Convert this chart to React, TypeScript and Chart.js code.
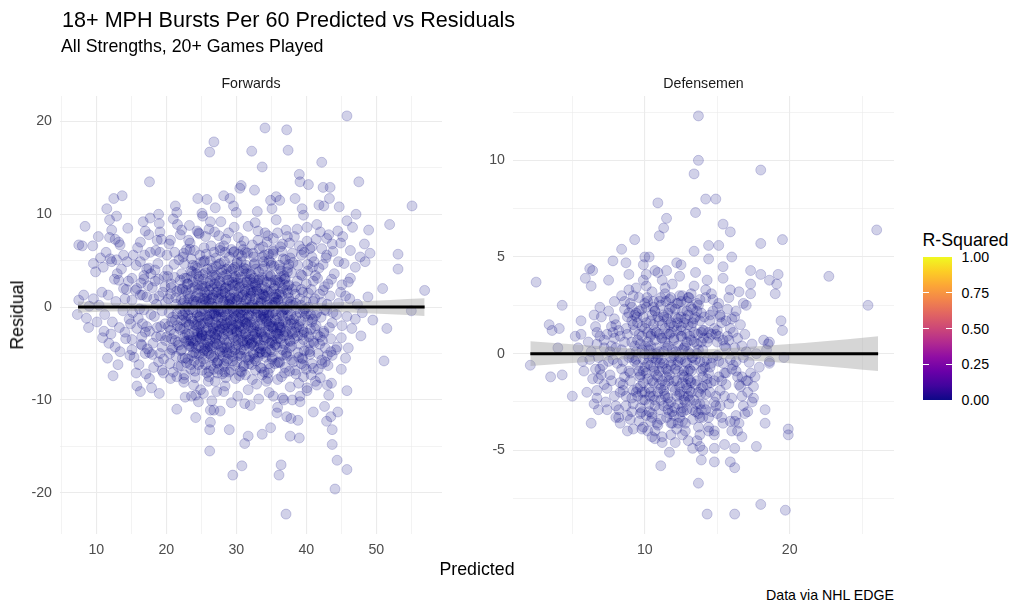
import React, { useEffect, useRef } from 'react';
import { Chart, registerables } from 'chart.js';
Chart.register(...registerables);

const FONT = "'Liberation Sans', Arial, Helvetica, sans-serif";

// ---------- Forwards: [predicted, residual] ----------
const fwdOuter: [number, number][] = [
  [45.8,20.6],[34.1,19.3],[37.2,19.1],[26.8,17.8],[26.2,16.7],[32.2,16.8],[37.4,16.9],[33.7,15.1],[42.2,15.6],[17.6,13.5],
  [47.5,13.5],[39.0,14.3],[39.1,13.5],[40.3,13.2],[30.7,13.1],[30.5,12.8],[32.6,12.6],[42.4,12.9],[43.4,12.9],[13.7,12.0],
  [12.5,11.7],[11.5,10.6],[24.5,11.7],[25.8,11.6],[27.0,10.7],[28.2,12.0],[29.1,11.7],[29.6,10.9],[35.7,11.9],[34.9,11.5],
  [36.2,11.5],[35.1,10.6],[38.4,11.7],[39.4,10.6],[39.6,9.9],[55.1,10.9],[44.7,10.8],[43.3,11.7],[41.8,11.0],[42.5,10.9],
  [45.8,9.3],[47.1,10.0],[48.9,8.3],[51.9,8.9],[8.4,8.7],[7.5,6.7],[8.0,6.6],[9.5,6.6],[10.3,7.6],[11.9,9.4],
  [12.2,8.3],[14.5,8.5],[11.9,7.5],[12.7,7.3],[13.2,7.0],[13.4,6.7],[16.7,9.2],[17.7,9.6],[18.9,10.0],[19.0,9.0],
  [19.1,8.1],[17.5,7.8],[16.3,7.0],[18.7,7.2],[21.3,10.9],[21.5,10.2],[21.0,9.5],[22.2,8.3],[22.0,7.8],[20.6,7.2],
  [25.1,10.1],[25.2,9.8],[26.3,9.2],[24.4,8.2],[24.6,8.0],[53.1,5.7],[53.1,4.1],[56.9,1.8],[50.9,2.0],[49.1,5.8],
  [48.4,4.9],[47.0,4.3],[47.7,5.4],[46.3,6.1],[44.9,6.9],[43.7,6.8],[44.6,4.9],[46.3,3.1],[46.0,2.7],[45.1,2.4],
  [44.9,1.6],[9.6,4.7],[9.9,3.8],[11.0,4.3],[12.0,5.2],[12.2,4.9],[12.9,5.1],[14.4,4.9],[15.3,5.6],[13.2,2.9],
  [13.9,2.0],[10.8,1.6],[9.6,0.9],[7.5,0.75],[8.2,1.3],[16.3,4.9],[16.8,3.4],[17.5,4.2],[18.4,4.0],[19.1,5.9],
  [20.1,5.6],[17.7,5.9],[15.8,2.0],[16.3,1.3],[15.1,3.1],[14.1,0.9],[15.1,0.75],
  [7.3,-0.8],[8.9,-2.2],[10.1,-1.6],[11.1,-2.6],[11.8,-3.9],[12.7,-4.3],[13.4,-4.8],[12.4,-7.4],[15.7,-7.1],[17.1,-7.2],
  [17.6,-7.7],[15.8,-8.5],[16.3,-9.1],[15.1,-4.6],[16.5,-4.1],[17.0,-5.0],[15.8,-2.3],[14.9,-1.8],[17.2,-2.1],[14.1,-2.7],
  [15.1,-3.5],[16.5,-3.2],[19.1,-5.0],[18.9,-5.9],[19.4,-6.8],[19.6,-7.1],[20.6,-7.7],[21.5,-7.5],[22.5,-7.7],[23.9,-8.4],
  [24.9,-8.9],[25.3,-9.3],[27.2,-9.1],[28.2,-9.1],[21.5,-11.0],[22.7,-9.7],[23.6,-9.6],[24.6,-10.2],[24.2,-11.9],[26.3,-11.1],
  [26.8,-11.1],[27.7,-11.2],[26.3,-12.4],[26.2,-13.2],[26.2,-15.5],[29.0,-13.2],[29.5,-18.1],[30.8,-17.1],[31.2,-14.7],[31.7,-13.9],
  [33.7,-13.7],[34.9,-13.0],[36.4,-17.0],[36.1,-18.1],[37.1,-22.3],[37.7,-13.9],[39.0,-14.1],[37.8,-12.0],[38.8,-12.2],[41.0,-11.3],
  [42.6,-10.7],[42.9,-12.3],[43.5,-11.8],[43.7,-13.2],[43.7,-14.8],[44.4,-16.5],[44.1,-19.6],[45.8,-17.5],[44.5,-11.3],[45.8,-9.0],
  [45.0,-6.7],[45.6,-5.5],[51.1,-5.8],[43.2,-9.5],[41.3,-8.0],[42.0,-7.6],[55.0,-0.4],[51.5,-2.3],[47.0,-1.3],[46.5,-2.3],
  [45.1,-2.0],[47.8,-3.1],[35.8,-11.4],[37.2,-11.8],[38.0,-10.0],[39.1,-9.6],[40.1,-8.7],[36.8,-10.0],[35.3,-9.6],[40.8,-6.1],
  [42.2,-5.7],[43.0,-5.2],[44.4,-4.3],[43.7,-5.2],[42.7,-5.9],[41.0,-3.7],[42.0,-3.2],[42.5,-2.8],[40.3,-4.6],[39.4,-5.5],
  [38.4,-6.8],[39.6,-7.5],[40.1,-9.0],[39.1,-10.2],[41.5,-8.4],[43.0,-8.4],
  [44.3,-0.8],[44.6,0.4],[45.0,-3.3],[45.4,4.7],[45.8,-1.0],[46.2,0.9],[44.5,8.2],[45.2,7.6],[46.0,-4.4],[46.6,8.6],
  [44.2,-4.6],[45.6,1.2],[47.3,0.3],[48.0,-0.6],[48.8,1.1],[49.5,-1.4],[48.3,6.8],
  [10.4,0.2],[11.2,-0.8],[11.7,1.3],[12.3,-1.6],[12.8,0.6],[13.3,-2.2],[13.8,-0.4],[14.3,1.9],[14.7,-1.3],[10.9,-3.3],
  [12.1,-2.9],[13.0,3.6],[13.6,4.1],[14.2,-3.4],[14.8,-5.2],[11.4,5.9],[12.6,3.0],[13.9,5.6],[14.6,2.8],[11.6,-5.5],
  [13.1,-6.2],[10.6,5.3],[9.0,0.1],[8.6,-1.2],[12.9,9.8],
];

const fwdMid: [number, number][] = [
  [20.3,-2.1],[20.6,1.4],[20.9,-4.4],[21.2,3.2],[21.5,-0.7],[21.8,5.1],[22.1,-6.3],[22.4,0.4],[22.7,-3.0],[23.0,2.5],
  [20.2,4.0],[20.8,-1.6],[21.4,-5.3],[21.9,1.9],[22.5,-8.1],[22.9,6.2],[21.1,-2.9],[22.2,3.6],[22.8,-1.2],[20.5,-6.1],
  [21.7,-3.8],[22.6,4.7],[23.1,-5.6],[20.4,6.8],[21.6,8.9],
  [23.3,-1.9],[23.6,3.3],[23.9,-4.9],[24.2,1.1],[24.5,-2.8],[24.8,5.6],[25.1,-6.8],[25.4,0.2],[25.7,-3.5],[26.0,2.6],
  [23.4,6.9],[23.8,-0.3],[24.1,-7.6],[24.4,4.2],[24.7,-1.1],[25.0,-4.4],[25.3,3.0],[25.6,7.6],[25.9,-2.2],[23.5,-3.6],
  [24.0,-5.8],[24.6,1.9],[25.2,-5.1],[25.5,5.0],[25.8,-0.9],[23.2,0.9],[24.3,-2.0],[24.9,-0.5],[25.6,-6.2],[23.7,2.0],
  [24.8,-3.3],[25.9,4.1],[24.2,-9.5],[23.3,8.8],
  [26.2,-0.8],[26.5,3.9],[26.8,-5.3],[27.1,1.6],[27.4,-2.6],[27.7,6.1],[28.0,-7.2],[28.3,0.7],[28.6,-3.9],[28.9,2.9],
  [26.3,-4.2],[26.6,0.1],[26.9,8.1],[27.2,-6.0],[27.5,4.6],[27.8,-1.5],[28.1,3.3],[28.4,-8.5],[28.7,-0.2],[29.0,5.4],
  [26.4,6.6],[26.7,-2.3],[27.0,-8.0],[27.3,2.2],[27.6,-4.7],[27.9,1.0],[28.2,-2.9],[28.5,7.3],[28.8,-5.6],[26.1,-6.9],
  [26.5,-10.1],[27.4,-1.1],[28.0,4.0],[28.6,-1.7],[27.1,-3.4],[26.3,2.3],[28.3,-6.4],[27.8,9.2],[26.9,-0.6],[28.9,0.3],
  [29.2,-1.4],[29.5,2.4],[29.8,-4.6],[30.1,0.8],[30.4,-2.1],[30.7,4.9],[31.0,-6.4],[31.3,1.7],[31.6,-3.2],[31.9,3.6],
  [29.3,6.2],[29.6,-0.4],[29.9,-7.7],[30.2,3.0],[30.5,-5.0],[30.8,-0.9],[31.1,7.1],[31.4,-1.8],[31.7,-8.9],[32.0,1.2],
  [29.4,-3.0],[29.7,8.6],[30.0,-2.5],[30.3,5.7],[30.6,-6.9],[30.9,0.1],[31.2,-4.1],[31.5,2.7],[31.8,-0.2],[29.1,1.9],
  [30.2,-9.6],[31.0,3.9],[31.9,-5.4],[29.8,4.3],[30.5,1.5],[31.4,-2.8],[29.5,-5.8],[30.9,-3.6],[31.6,5.8],[30.0,10.2],
  [31.2,-10.4],[29.3,-10.3],
  [32.2,-1.0],[32.5,3.1],[32.8,-5.8],[33.1,0.5],[33.4,-2.4],[33.7,5.4],[34.0,-7.0],[34.3,1.8],[34.6,-3.7],[34.9,2.6],
  [32.3,6.7],[32.6,-0.1],[32.9,-8.3],[33.2,3.8],[33.5,-4.5],[33.8,-0.7],[34.1,8.0],[34.4,-1.6],[34.7,-6.1],[35.0,4.5],
  [32.4,-3.1],[32.7,9.1],[33.0,-2.0],[33.3,6.3],[33.6,-6.6],[33.9,1.3],[34.2,-4.8],[34.5,3.4],[34.8,0.0],[32.1,1.8],
  [33.2,-9.9],[34.0,4.4],[34.7,-9.2],[32.8,2.2],[33.6,-1.3],[34.4,7.0],[32.5,-5.1],[33.9,-3.2],[34.9,-2.1],[33.0,10.3],
  [32.0,-10.6],
  [35.2,-0.6],[35.5,2.9],[35.8,-4.3],[36.1,1.4],[36.4,-2.2],[36.7,5.2],[37.0,-6.5],[37.3,0.6],[37.6,-3.6],[37.9,3.7],
  [35.3,7.4],[35.6,-1.4],[35.9,-7.8],[36.2,4.1],[36.5,-5.2],[36.8,-0.3],[37.1,8.3],[37.4,-1.9],[37.7,-8.6],[38.0,1.9],
  [35.4,-3.1],[35.7,9.4],[36.0,-2.9],[36.3,6.5],[36.6,-9.8],[36.9,2.4],[37.2,-4.9],[37.5,4.6],[37.8,-0.8],[35.1,-5.6],
  [36.4,0.2],[37.0,3.1],[35.9,-10.8],[37.6,6.9],
  [38.2,-1.3],[38.5,2.2],[38.8,-4.9],[39.1,0.9],[39.4,-3.0],[39.7,5.9],[40.0,-6.7],[40.3,1.5],[40.6,-2.4],[40.9,4.3],
  [38.3,7.6],[38.6,-0.2],[38.9,-8.2],[39.2,3.5],[39.5,-5.6],[39.8,-1.0],[40.1,8.6],[40.4,-3.9],[40.7,-7.3],[41.0,2.8],
  [38.4,-2.7],[39.0,6.6],[39.6,-0.4],[40.2,3.9],[40.8,-1.6],[38.1,4.8],[39.3,-6.1],[40.5,6.3],
  [41.3,-0.9],[41.6,3.1],[41.9,-4.0],[42.2,0.5],[42.5,-2.6],[42.8,5.3],[43.1,-6.3],[43.4,1.2],[43.7,-1.7],[44.0,3.6],
  [41.4,7.3],[41.7,-6.7],[42.0,8.1],[42.3,-3.6],[42.6,2.2],[42.9,-0.4],[43.2,7.8],[43.5,-3.4],[43.8,6.0],[41.2,-2.3],
  [42.4,4.6],[43.6,-8.2],
  [15.2,-0.6],[15.6,1.8],[16.0,-1.2],[16.4,2.6],[16.8,-0.3],[17.2,1.1],[17.6,-2.6],[18.0,2.1],[18.3,-1.0],[18.6,0.3],
  [18.9,3.0],[19.2,-3.1],[19.5,1.6],[19.8,-1.8],[15.4,-5.4],[16.1,-6.2],[17.3,-4.5],[18.1,-3.9],[18.7,-2.2],[19.4,-4.3],
  [19.9,0.5],[17.8,3.6],[18.5,6.1],[16.9,5.6],[15.9,6.4],[19.7,3.3],[16.6,-1.8],[18.2,-6.5],[19.3,7.3],[17.0,8.2],
  [15.7,4.5],[19.0,-9.3],[17.9,-8.7],
  [24.3,0.6],[24.9,-1.8],[25.4,-4.0],[25.9,1.3],[26.4,-2.6],[26.9,3.2],[27.4,-0.3],[27.9,-4.3],[28.4,2.0],[28.9,-2.2],
  [29.4,0.5],[29.9,-3.6],[30.4,2.1],[30.9,-1.5],[31.4,-5.4],[31.9,0.9],[32.4,-2.6],[32.9,1.7],[33.4,-4.1],[33.9,2.9],
  [34.4,-0.6],[34.9,-4.6],[35.4,1.1],[35.9,-2.2],[36.4,3.3],[36.9,-4.0],[37.4,1.5],[37.9,-2.6],[24.6,3.0],[25.1,-3.0],
  [25.6,2.2],[26.1,-5.0],[26.6,1.0],[27.1,-1.9],[27.6,2.8],[28.1,-5.3],[28.6,4.1],[29.1,-4.4],[29.6,3.2],[30.1,-5.9],
  [30.6,-0.6],[31.1,4.2],[31.6,-1.1],[32.1,-4.0],[32.6,4.7],[33.1,-3.6],[33.6,0.9],[34.1,-2.7],[34.6,5.7],[35.1,-3.8],
  [35.6,0.5],[36.1,-5.9],[36.6,2.0],[37.1,-1.6],[22.3,-0.8],[22.8,1.8],[23.3,-4.2],[23.8,4.5],[21.3,-1.4],[20.7,2.5],
  [38.5,0.4],[39.0,-2.1],[39.5,1.6],[40.0,-0.7],[40.5,-4.8],[41.0,0.6],[31.3,-7.3],[32.3,-7.8],[29.0,-7.0],[27.3,-7.1],
  [34.3,-8.0],[30.7,6.6],[28.4,5.9],[33.1,7.2],[35.3,6.0],[26.0,-8.0],
  [22.5,5.8],[23.2,7.2],[24.0,6.1],[24.7,7.9],[25.4,6.4],[26.1,8.4],[26.8,5.9],[27.5,7.7],[28.2,6.6],[28.9,8.0],
  [29.6,5.9],[30.3,7.5],[31.0,6.2],[31.7,8.7],[32.4,5.8],[33.1,8.2],[33.8,6.5],[34.5,7.7],[35.2,5.7],[35.9,8.0],
  [36.6,6.8],[37.3,7.6],[38.0,5.8],[38.7,8.4],[39.4,6.2],[40.1,7.1],[40.8,5.4],[41.5,8.9],[42.2,6.3],[42.9,7.4],
  [23.6,5.2],[27.1,5.3],[30.8,5.5],[34.0,5.6],[37.7,5.3],[41.1,4.9],
];

const fwdCore: [number, number][] = [
  [20.1,-3.2],[20.3,0.9],[20.5,-5.0],[20.7,2.1],[20.9,-1.1],[21.1,4.6],[21.3,-3.6],[21.5,1.7],[21.7,-6.4],[21.9,-0.2],
  [20.2,3.3],[20.6,-2.5],[21.0,-7.0],[21.4,0.3],[21.8,-4.1],[20.4,-0.6],[21.2,5.9],[21.6,-2.0],[20.8,-4.6],[22.0,2.9],
  [22.1,-4.7],[22.3,2.0],[22.5,-2.3],[22.7,-0.5],[22.9,-6.0],[23.1,1.4],[23.3,-3.0],[23.5,3.9],[23.7,-5.2],[23.9,0.7],
  [22.2,-1.4],[22.4,5.4],[22.6,-7.3],[22.8,-3.7],[23.0,0.0],[23.2,-1.9],[23.4,6.2],[23.6,-4.3],[23.8,2.7],[24.0,-2.6],
  [22.9,3.1],[23.5,-6.7],[22.3,-5.5],[23.1,-0.9],[23.9,-3.9],
  [24.1,0.3],[24.3,-4.4],[24.5,2.4],[24.7,-2.1],[24.9,4.8],[25.1,-0.4],[25.3,-5.6],[25.5,1.6],[25.7,-3.1],[25.9,-1.3],
  [24.2,-3.6],[24.4,-0.9],[24.6,-6.2],[24.8,1.0],[25.0,-2.7],[25.2,3.5],[25.4,-4.7],[25.6,0.6],[25.8,-7.1],[26.0,-0.1],
  [24.3,3.6],[24.7,-5.1],[25.1,2.3],[25.5,-1.7],[25.9,-4.3],[24.5,-1.5],[25.3,0.9],[24.1,-6.9],[25.7,5.7],[24.9,-3.4],
  [26.1,1.8],[26.3,-3.0],[26.5,0.4],[26.7,-5.5],[26.9,2.5],[27.1,-1.0],[27.3,-4.0],[27.5,1.1],[27.7,-2.4],[27.9,3.7],
  [26.2,-1.6],[26.4,-6.3],[26.6,3.4],[26.8,-0.7],[27.0,-3.3],[27.2,0.0],[27.4,-5.8],[27.6,2.6],[27.8,-0.5],[28.0,-4.8],
  [26.3,5.0],[26.7,-2.2],[27.1,4.4],[27.5,-6.7],[27.9,-1.8],[26.5,-4.4],[27.3,1.6],[26.1,-7.5],[27.7,6.4],[26.9,-2.9],
  [27.6,-3.6],[26.4,0.9],
  [28.1,0.6],[28.3,-3.5],[28.5,2.1],[28.7,-1.4],[28.9,-5.0],[29.1,1.3],[29.3,-2.4],[29.5,4.1],[29.7,-0.7],[29.9,-4.1],
  [28.2,-6.1],[28.4,-0.9],[28.6,3.5],[28.8,-2.8],[29.0,0.2],[29.2,-6.8],[29.4,2.7],[29.6,-3.3],[29.8,1.0],[30.0,-1.9],
  [28.3,4.9],[28.7,-4.3],[29.1,-0.3],[29.5,-5.3],[29.9,3.3],[28.5,-7.6],[29.3,0.9],[28.1,-2.2],[29.7,6.0],[28.9,2.3],
  [29.6,-1.2],[28.4,1.5],
  [30.1,-3.0],[30.3,1.1],[30.5,-1.2],[30.7,-4.6],[30.9,2.6],[31.1,-0.4],[31.3,-2.9],[31.5,0.9],[31.7,-5.7],[31.9,1.9],
  [30.2,-0.5],[30.4,3.8],[30.6,-2.6],[30.8,-7.0],[31.0,1.3],[31.2,-1.6],[31.4,4.5],[31.6,-3.9],[31.8,-0.9],[32.0,3.0],
  [30.3,-5.2],[30.7,0.4],[31.1,-6.3],[31.5,-1.7],[31.9,-3.5],[30.5,2.2],[31.3,5.9],[30.1,4.7],[31.7,2.4],[30.9,-3.8],
  [31.4,-0.1],[30.2,-1.8],
  [32.1,-2.2],[32.3,0.4],[32.5,-4.2],[32.7,2.4],[32.9,-0.8],[33.1,-5.4],[33.3,1.4],[33.5,-2.7],[33.7,3.2],[33.9,-1.1],
  [32.2,-6.2],[32.4,1.6],[32.6,-1.9],[32.8,4.1],[33.0,-3.4],[33.2,0.1],[33.4,-6.5],[33.6,2.0],[33.8,-4.2],[34.0,-0.3],
  [32.3,-3.8],[32.7,-0.2],[33.1,2.9],[33.5,-1.0],[33.9,4.9],[32.5,5.4],[33.3,-4.9],[32.1,3.5],[33.7,-7.3],[32.9,-2.7],
  [33.6,0.6],[32.4,-5.0],
  [34.1,1.1],[34.3,-3.3],[34.5,0.2],[34.7,-1.8],[34.9,3.4],[35.1,-4.8],[35.3,-0.5],[35.5,2.3],[35.7,-2.8],[35.9,0.8],
  [34.2,-5.4],[34.4,2.7],[34.6,-0.9],[34.8,-6.6],[35.0,1.7],[35.2,-2.1],[35.4,4.4],[35.6,-4.0],[35.8,-1.2],[36.0,2.6],
  [34.3,-1.5],[34.7,5.0],[35.1,0.5],[35.5,-6.1],[35.9,-3.4],[34.5,-7.7],[35.3,6.2],[34.9,-2.9],[35.7,1.4],
  [36.1,-1.7],[36.3,1.6],[36.5,-3.9],[36.7,0.0],[36.9,3.0],[37.1,-2.6],[37.3,-5.3],[37.5,1.0],[37.7,-1.4],[37.9,-4.2],
  [36.2,-6.0],[36.4,3.9],[36.6,-0.9],[36.8,-3.1],[37.0,5.1],[37.2,-0.3],[37.4,2.3],[37.6,-6.9],[37.8,0.6],[38.0,-2.9],
  [36.3,-2.5],[36.9,-7.1],[37.3,3.8],[36.5,6.0],[37.7,-3.7],
  [38.1,0.2],[38.3,-3.4],[38.5,-1.0],[38.7,2.8],[38.9,-5.4],[39.1,-0.6],[39.3,1.9],[39.5,-2.4],[39.7,-6.3],[39.9,0.6],
  [38.2,-5.9],[38.4,1.4],[38.6,-2.2],[38.8,4.5],[39.0,-4.0],[39.2,-1.5],[39.4,3.4],[39.6,-3.5],[39.8,-0.2],[40.0,2.5],
  [38.5,-7.2],[39.3,5.6],[38.9,-1.9],[39.7,-4.7],
  [40.1,-2.8],[40.3,0.0],[40.5,-5.1],[40.7,1.9],[40.9,-1.3],[41.1,-3.9],[41.3,3.4],[41.5,-0.6],[41.7,-5.0],[41.9,1.4],
  [40.2,4.6],[40.6,-0.8],[41.0,-6.6],[41.4,-2.0],[41.8,4.2],[40.4,-3.2],[41.2,0.9],[40.8,6.5],[41.6,-3.0],
  [42.1,-1.1],[42.4,1.8],[42.7,-4.4],[43.0,0.3],[43.3,-2.2],[43.6,3.0],[42.2,-6.1],[42.6,-0.3],[43.1,2.5],[43.5,-4.8],
  [42.9,5.6],[43.8,-0.6],
  [16.2,-0.2],[16.6,1.3],[17.0,-2.7],[17.4,2.3],[17.8,-0.8],[18.2,0.9],[18.6,-3.2],[19.0,1.2],[19.4,-0.4],[19.8,2.2],
  [16.4,-4.0],[17.2,4.1],[18.0,-5.1],[18.8,4.7],[19.6,-5.6],[17.6,-4.9],[19.2,-2.1],[18.4,2.8],[16.8,3.0],[19.9,-3.6],
];

const fwdDense: [number, number][] = [
  [22.0,-2.4],[22.1,0.8],[22.2,-4.6],[22.3,1.9],[22.4,-0.9],[22.5,-3.3],[22.6,3.1],[22.7,-5.5],[22.8,-1.6],[22.9,0.2],
  [23.0,-2.9],[23.1,2.5],[23.2,-4.0],[23.3,-0.3],[23.4,1.2],[23.5,-6.2],[23.6,-1.2],[23.7,3.8],[23.8,-3.7],[23.9,0.5],
  [24.0,-1.9],[24.1,2.2],[24.2,-5.0],[24.3,-0.6],[24.4,-2.6],[24.5,1.5],[24.6,-4.2],[24.7,3.3],[24.8,-1.0],[24.9,-5.9],
  [25.0,0.4],[25.1,-3.1],[25.2,2.0],[25.3,-1.8],[25.4,-0.2],[25.5,-4.5],[25.6,3.7],[25.7,-2.5],[25.8,1.0],[25.9,-3.9],
  [26.0,-1.4],[26.1,0.6],[26.2,-3.6],[26.3,2.8],[26.4,-5.2],[26.5,-0.7],[26.6,-2.8],[26.7,1.3],[26.8,-4.1],[26.9,0.0],
  [27.0,-1.7],[27.1,3.4],[27.2,-3.0],[27.3,-6.0],[27.4,0.9],[27.5,-2.1],[27.6,-0.4],[27.7,-4.9],[27.8,2.3],[27.9,-1.1],
  [28.0,-3.2],[28.1,1.7],[28.2,-0.5],[28.3,-4.4],[28.4,-1.9],[28.5,0.3],[28.6,-5.8],[28.7,2.9],[28.8,-2.6],[28.9,-0.8],
  [29.0,-3.8],[29.1,1.0],[29.2,-1.5],[29.3,3.9],[29.4,-4.8],[29.5,-0.1],[29.6,-2.3],[29.7,1.6],[29.8,-6.3],[29.9,-1.0],
  [30.0,0.5],[30.1,-2.7],[30.2,2.6],[30.3,-4.1],[30.4,-0.7],[30.5,-1.9],[30.6,3.2],[30.7,-5.3],[30.8,1.1],[30.9,-3.0],
  [31.0,-0.3],[31.1,-4.6],[31.2,1.9],[31.3,-1.3],[31.4,0.7],[31.5,-3.6],[31.6,2.9],[31.7,-2.0],[31.8,-6.1],[31.9,0.0],
  [32.0,-1.6],[32.1,1.5],[32.2,-3.9],[32.3,-0.4],[32.4,2.6],[32.5,-2.2],[32.6,-5.6],[32.7,0.9],[32.8,-1.1],[32.9,-3.3],
  [33.0,1.9],[33.1,-0.6],[33.2,-4.4],[33.3,3.0],[33.4,-1.8],[33.5,0.4],[33.6,-2.9],[33.7,-5.0],[33.8,1.4],[33.9,-0.9],
  [34.0,-3.5],[34.1,2.1],[34.2,-1.3],[34.3,-4.9],[34.4,0.6],[34.5,-2.5],[34.6,1.6],[34.7,-0.5],[34.8,-3.9],[34.9,3.3],
  [35.0,-1.6],[35.1,-5.4],[35.2,0.2],[35.3,-2.3],[35.4,2.0],[35.5,-4.1],[35.6,-0.8],[35.7,1.0],[35.8,-2.9],[35.9,-6.0],
  [36.0,0.7],[36.1,-1.9],[36.2,2.7],[36.3,-3.4],[36.4,-0.6],[36.5,1.3],[36.6,-4.6],[36.7,-1.5],[36.8,3.4],[36.9,-2.7],
  [37.0,-0.2],[37.1,-5.1],[37.2,1.8],[37.3,-3.0],[37.4,-0.9],[37.5,2.4],[37.6,-4.4],[37.7,0.3],[37.8,-1.8],[37.9,-5.7],
  [25.05,-2.9],[25.45,0.9],[25.85,-4.7],[26.25,-1.0],[26.65,2.0],[27.05,-3.9],[27.45,-0.5],[27.85,1.4],[28.25,-2.4],[28.65,-4.9],
  [29.05,0.7],[29.45,-1.9],[29.85,2.3],[30.25,-3.5],[30.65,-0.1],[31.05,-2.3],[31.45,3.6],[31.85,-4.3],[32.25,0.2],[32.65,-2.9],
  [33.05,2.6],[33.45,-4.8],[33.85,-0.4],[34.25,1.2],[34.65,-2.0],[35.05,-3.6],[35.45,0.5],[35.85,2.9],[36.25,-2.2],[36.65,-0.4],
  [24.35,-3.2],[23.75,-1.5],[23.15,-3.6],[22.55,0.7],[21.95,-2.2],[21.35,1.0],[20.75,-3.4],[38.25,-1.8],[38.75,-3.1],[39.25,0.2],
  [24.15,4.4],[25.35,4.9],[26.55,4.2],[27.75,4.7],[28.95,4.3],[30.15,4.9],[31.35,4.1],[32.55,4.6],[33.75,4.1],[34.95,4.8],
  [36.15,4.5],[37.35,4.2],[28.35,-7.0],[30.45,-7.4],[32.75,-6.8],[34.55,-7.1],[26.75,-6.7],[36.45,-7.5],[39.65,-2.7],[40.25,-1.4],
];

// ---------- Defensemen: [predicted, residual] ----------
const defOuter: [number, number][] = [
  [13.7,12.3],[13.7,10.0],[13.4,9.3],[18.0,9.5],[10.9,7.8],[14.2,8.0],[14.9,8.0],[13.5,7.3],[11.5,7.0],[11.3,6.5],
  [11.0,6.1],[15.4,6.7],[15.9,6.3],[9.3,5.9],[8.4,5.4],[8.7,4.7],[7.8,4.8],[6.2,4.4],[6.4,4.3],[5.9,3.9],
  [6.3,3.5],[7.5,3.8],[2.5,3.7],[4.3,2.5],[3.4,1.5],[3.6,1.2],[4.1,1.3],[4.0,0.3],[26.0,6.4],[25.4,2.5],
  [22.7,4.0],[18.0,5.7],[19.5,5.9],[17.3,4.3],[18.0,4.1],[19.2,4.1],[18.6,3.8],[19.1,3.6],[19.0,3.1],[19.4,1.7],
  [19.5,1.2],[18.6,0.6],[17.3,3.6],[17.3,3.1],[16.5,3.2],[15.9,3.3],[16.0,5.0],[15.4,4.5],[15.4,3.9],[14.4,5.6],
  [15.1,5.6],[14.4,4.9],[10.0,5.0],[10.3,5.0],[9.9,4.6],[10.7,4.3],[11.2,3.8],[11.5,4.3],[12.2,4.7],[12.5,4.6],
  [13.4,5.3],[5.2,0.9],[5.6,1.0],[5.4,0.3],[5.7,-0.4],[6.7,0.5],[6.8,-0.2],[7.2,0.3],[7.7,1.4],[7.2,0.7],
  [7.9,0.8],[6.6,1.4],[6.9,2.4],[7.5,2.2],[7.9,2.7],[8.4,3.0],[8.9,3.3],[8.6,2.7],[9.1,2.4],[9.4,2.1],
  [10.1,2.4],[10.7,2.2],[11.0,2.7],[11.8,2.9],[12.5,2.7],[13.0,2.9],[13.6,2.6],[9.1,1.7],[9.8,1.4],[10.5,2.0],
  [11.3,1.9],[11.8,1.1],[12.5,1.9],[13.2,1.4],[13.9,2.1],
  [17.0,2.5],[16.3,2.2],[15.6,1.7],[15.9,1.3],[15.1,0.9],[15.4,0.7],[14.0,1.2],[14.5,1.7],[16.8,-0.2],[17.2,-0.45],
  [16.3,-0.9],[17.0,-1.4],[16.6,-1.7],[17.5,-2.3],[18.2,0.7],[18.4,0.2],[17.7,0.0],[18.6,-0.4],[17.9,-0.7],
  [2.1,-0.6],[3.5,-1.2],[4.3,-1.1],[5.0,-2.2],[6.3,-3.6],[6.8,-2.9],[8.0,-3.3],[8.3,-3.6],[8.8,-4.0],[9.2,-3.9],
  [10.7,-4.4],[11.1,-5.8],[11.7,-5.1],[13.7,-6.7],[14.3,-8.3],[16.2,-8.3],[18.0,-7.8],[19.7,-8.1],[16.2,-5.9],[15.9,-5.6],
  [14.8,-5.6],[13.9,-5.5],[17.7,-4.8],[19.9,-3.9],[19.9,-4.2],[18.3,-2.9],[18.3,-3.6],[16.2,-4.9],[15.5,-4.7],[18.5,0.5],
  [19.6,-0.2],[18.6,-0.5],[17.6,-1.2],
  [6.7,-1.9],[6.7,-2.3],[7.4,-1.8],[7.9,-2.2],[8.0,-2.7],[8.2,-3.3],[9.0,-3.4],[9.9,-3.8],[9.8,-3.0],[10.5,-3.3],
  [10.7,-4.0],[11.2,-4.3],[11.8,-3.6],[12.3,-3.6],[12.6,-4.2],[13.0,-4.5],[13.3,-4.9],[13.8,-4.8],[14.0,-5.0],[14.4,-4.0],
  [14.8,-4.2],[14.8,-4.9],[16.0,-4.0],[16.2,-3.5],[16.4,-4.0],[16.7,-4.3],[16.9,-3.1],[17.1,-2.0],[17.4,-2.5],[17.1,-1.4],
  [17.5,-1.7],[16.7,-1.2],
  [5.8,-0.9],[6.1,0.6],[6.4,-1.3],[6.7,1.1],[6.0,-2.0],[6.5,2.0],[6.9,-0.8],[6.2,-0.3],[5.6,1.7],
];

const defMid: [number, number][] = [
  [7.1,-0.6],[7.4,1.0],[7.7,-1.4],[8.0,0.3],[8.3,-2.0],[7.3,-2.5],[7.9,1.8],[8.4,-0.8],[7.6,0.1],[8.2,1.2],
  [7.0,-1.1],[8.5,-1.6],[7.8,-0.3],
  [8.6,0.6],[8.9,-0.9],[9.2,1.5],[9.5,-2.2],[9.8,0.2],[8.7,-2.7],[9.0,2.6],[9.3,-0.4],[9.6,1.0],[9.9,-1.5],
  [8.8,1.9],[9.1,-3.0],[9.4,3.4],[9.7,-2.8],[10.0,-0.7],[8.6,-1.2],[9.2,-1.9],[9.8,2.3],[9.0,0.0],[9.5,0.7],
  [9.9,3.8],[8.9,4.1],[9.6,-3.5],[10.0,1.3],
  [10.1,-1.0],[10.4,0.9],[10.7,-2.4],[11.0,1.7],[11.3,-0.5],[10.2,2.7],[10.5,-3.1],[10.8,0.3],[11.1,-1.8],[11.4,3.1],
  [10.3,-0.2],[10.6,1.5],[10.9,-3.7],[11.2,0.8],[11.5,-1.2],[10.1,3.5],[10.4,-2.0],[10.7,2.2],[11.0,-0.9],[11.3,-2.7],
  [10.6,-0.7],[11.4,1.3],[10.9,4.2],[10.2,-4.0],[11.1,2.9],[10.5,0.0],
  [11.6,0.4],[11.9,-1.7],[12.2,1.2],[12.5,-0.3],[12.8,-2.5],[11.7,2.3],[12.0,-3.2],[12.3,-0.9],[12.6,3.0],[12.9,0.6],
  [11.8,-0.6],[12.1,1.9],[12.4,-2.1],[12.7,-1.2],[13.0,2.0],[11.6,-2.9],[11.9,3.6],[12.2,-1.4],[12.5,0.9],[12.8,-3.6],
  [11.7,1.0],[12.3,2.6],[12.9,-0.5],[12.0,-0.1],[12.6,-2.8],[11.8,-4.2],[12.4,4.0],[12.7,1.6],[12.1,-4.6],[12.9,-1.8],
  [13.1,-0.8],[13.4,1.1],[13.7,-2.0],[14.0,0.2],[14.3,-1.3],[13.2,2.4],[13.5,-3.0],[13.8,1.7],[14.1,-2.6],[14.4,0.8],
  [13.3,-0.2],[13.6,0.5],[13.9,-0.9],[14.2,2.9],[13.1,-2.4],[13.4,3.5],[13.7,-3.8],[14.0,-1.7],[14.3,3.8],[13.2,-1.5],
  [13.8,-4.2],[14.4,-3.3],[13.5,4.2],[14.1,1.2],[13.0,0.1],
  [14.6,-0.5],[14.9,1.0],[15.2,-1.9],[15.5,0.4],[15.8,-2.6],[14.7,2.2],[15.0,-3.1],[15.3,1.6],[15.6,-1.0],[15.9,-0.3],
  [14.8,-1.4],[15.1,2.6],[15.4,-3.6],[15.7,0.9],[14.6,3.1],[15.0,-0.1],[15.5,-2.2],[16.0,1.8],[14.9,-2.7],[15.8,2.9],
  [16.1,-0.6],[16.4,0.8],[16.7,-2.2],[17.0,0.1],[17.3,-1.0],[16.2,1.9],[16.5,-1.6],[16.8,2.6],[17.1,-3.0],[16.3,-3.2],
  [16.9,1.0],[17.4,0.5],
  [9.3,0.4],[9.7,-1.1],[10.2,0.6],[10.6,-1.5],[11.0,0.1],[11.4,-2.2],[11.8,1.6],[12.2,-0.6],[12.6,0.2],[13.0,-1.3],
  [13.4,0.6],[13.8,-0.4],[9.5,-0.6],[9.9,1.9],[10.3,-2.6],[10.8,1.1],[11.2,-1.4],[11.6,2.1],[12.0,0.7],[12.4,-1.7],
  [12.8,1.8],[13.2,-2.0],[13.6,2.2],[14.0,-0.8],[10.0,-2.4],[10.9,-0.2],[11.5,-0.8],[12.7,-0.9],[13.3,1.6],[11.1,2.5],
  [12.3,-2.6],[10.4,1.7],[11.7,-3.1],[12.9,2.7],[9.4,-2.0],[13.9,-2.9],
];

const defCore: [number, number][] = [
  [8.1,-0.5],[8.3,0.9],[8.5,-1.9],[8.7,1.3],[8.9,-0.2],[9.1,-2.3],[9.3,2.0],[8.2,-2.9],[8.6,2.3],[9.0,-1.4],
  [9.4,0.1],[8.4,0.2],[8.8,-3.2],[9.2,3.0],[8.0,1.5],
  [9.5,1.6],[9.6,-0.9],[9.7,0.5],[9.8,-2.0],[9.9,-0.3],[10.0,2.6],[10.1,-3.2],[10.2,-1.3],[10.3,0.2],[10.4,-0.6],
  [10.5,3.2],[10.6,-2.2],[10.7,0.7],[10.8,-1.1],[10.9,1.9],[11.0,-2.9],[9.6,2.9],[9.8,-3.9],[10.0,0.0],[10.2,1.1],
  [10.4,-3.5],[10.6,2.7],[10.8,-0.3],[11.0,-1.6],[9.7,-1.7],[10.1,4.1],[10.5,-4.3],[10.9,-2.0],[10.3,-1.8],[10.7,1.2],
  [11.1,-0.3],[11.2,1.5],[11.3,-1.9],[11.4,0.6],[11.5,-3.3],[11.6,-0.9],[11.7,2.8],[11.8,-2.5],[11.9,0.2],[12.0,-1.4],
  [12.1,2.3],[12.2,-3.9],[12.3,0.4],[12.4,-0.2],[12.5,1.2],[11.2,-4.6],[11.4,3.4],[11.6,-2.3],[11.8,-0.4],[12.0,1.4],
  [12.2,-2.2],[12.4,3.0],[11.3,0.1],[11.7,-1.1],[12.1,-0.8],[12.5,-3.0],[11.5,1.0],[11.9,-3.6],[12.3,1.8],[11.1,-2.4],
  [12.6,-1.5],[12.7,0.3],[12.8,-0.4],[12.9,-2.9],[13.0,1.5],[13.1,-1.9],[13.2,0.7],[13.3,-3.4],[13.4,-0.6],[13.5,1.9],
  [13.6,-1.4],[13.7,0.2],[13.8,-2.6],[13.9,1.1],[14.0,-3.3],[12.6,2.2],[12.8,-4.0],[13.0,-0.9],[13.2,3.1],[13.4,-2.4],
  [13.6,-4.5],[13.8,2.8],[12.7,-2.2],[13.1,0.0],[13.5,-0.3],[13.9,-1.8],[12.9,1.0],[13.3,2.3],[13.7,-3.1],[12.6,-3.5],
  [14.1,-0.4],[14.2,-2.1],[14.3,0.6],[14.4,-1.0],[14.5,2.0],[14.6,-3.0],[14.7,-0.2],[14.8,1.3],[14.9,-2.2],[15.0,0.6],
  [15.1,-1.2],[15.2,1.9],[15.3,-3.3],[15.4,-0.5],[14.2,3.3],[14.4,-3.8],[14.6,1.0],[14.8,-4.0],[15.0,2.4],[15.2,-2.7],
  [14.3,-1.6],[14.7,2.8],[15.1,-0.4],[14.5,-0.7],
  [15.6,-1.6],[15.8,0.7],[16.0,-2.3],[16.2,0.3],[16.4,-1.2],[16.6,1.5],[16.8,-2.7],[15.7,2.3],[15.9,-3.5],[16.1,1.1],
  [16.3,-0.4],[16.5,-3.6],[16.7,0.4],[15.5,-1.0],[16.0,-0.8],
  [6.3,0.1],[6.6,-0.8],[6.9,0.9],[7.2,-1.6],[7.5,-0.4],[7.8,1.1],[6.5,-2.6],[7.0,1.9],[7.4,-2.9],[7.7,0.4],
  [6.8,-1.3],[7.6,-1.1],
];

const defDense: [number, number][] = [
  [9.0,-1.0],[9.1,0.6],[9.2,-2.6],[9.3,1.2],[9.4,-0.3],[9.5,-1.8],[9.6,2.2],[9.7,-3.1],[9.8,0.9],[9.9,-0.9],
  [10.0,-2.0],[10.1,1.6],[10.2,-0.5],[10.3,-3.0],[10.4,0.4],[10.5,-1.4],[10.6,2.4],[10.7,-2.7],[10.8,0.0],[10.9,-1.2],
  [11.0,1.0],[11.1,-3.4],[11.2,-0.7],[11.3,2.0],[11.4,-1.6],[11.5,0.3],[11.6,-2.6],[11.7,1.5],[11.8,-0.2],[11.9,-3.0],
  [12.0,0.8],[12.1,-1.9],[12.2,2.6],[12.3,-0.4],[12.4,-3.3],[12.5,1.4],[12.6,-1.1],[12.7,-2.4],[12.8,0.4],[12.9,2.2],
  [13.0,-2.2],[13.1,0.9],[13.2,-0.9],[13.3,-2.9],[13.4,1.8],[13.5,-1.6],[13.6,0.0],[13.7,2.5],[13.8,-3.3],[13.9,0.6],
  [14.0,-1.2],[14.1,1.9],[14.2,-2.9],[14.3,-0.3],[14.4,1.1],[14.5,-2.0],[9.15,-0.2],[9.65,-1.2],[10.15,2.9],[10.65,-0.9],
  [11.15,0.8],[11.65,-1.4],[12.15,0.1],[12.65,-3.0],[13.15,-1.4],[13.65,1.0],[14.15,-0.7],[10.35,-2.2],[11.45,2.7],[12.45,-2.0],
  [9.45,1.9],[10.45,1.0],[11.35,-2.1],[12.25,1.6],[13.25,-0.2],[13.85,-2.1],[12.85,-1.6],[11.85,2.4],[10.85,-3.6],[9.85,-2.4],
  [10.05,0.4],[10.55,-0.2],[11.05,-0.5],[11.55,1.8],[12.05,-2.8],[12.55,0.9],[13.05,2.9],[13.55,-2.6],[14.05,0.8],[14.55,-1.5],
  [8.5,-0.4],[8.8,1.0],[8.3,-1.5],[15.0,1.2],[15.3,-1.4],[15.6,0.3],[14.8,-2.5],[15.2,2.0],[8.7,-2.2],[8.9,2.1],
];

const fwdPoints = [...fwdOuter, ...fwdMid, ...fwdCore, ...fwdDense];
const defPoints = [...defOuter, ...defMid, ...defCore, ...defDense];

// ---------- Fitted line (lm) and its confidence band ----------
const fwdFitX = [7.4, 56.9];
const fwdFitY = [0.0, 0.0];
const fwdBandX = [7.4, 12, 17, 22, 27, 32, 37, 42, 47, 52, 56.9];
const fwdBandHalf = [0.6, 0.48, 0.38, 0.31, 0.27, 0.28, 0.34, 0.45, 0.6, 0.77, 0.95];

const defFitX = [2.1, 26.1];
const defFitY = [0.0, 0.0];
const defBandX = [2.1, 4, 6, 8, 10, 12, 14, 16, 18, 20, 22, 24, 26.1];
const defBandHalf = [0.64, 0.54, 0.43, 0.32, 0.23, 0.19, 0.21, 0.29, 0.39, 0.5, 0.62, 0.75, 0.9];

// ---------- Axis ticks ----------
const fwdXMajor = [10, 20, 30, 40, 50];
const fwdXMinor = [5, 15, 25, 35, 45, 55];
const fwdYMajor = [-20, -10, 0, 10, 20];
const fwdYMinor = [-15, -5, 5, 15];
const defXMajor = [10, 20];
const defXMinor = [5, 15, 25];
const defYMajor = [-5, 0, 5, 10];
const defYMinor = [-7.5, -2.5, 2.5, 7.5, 12.5];

// ---------- Legend (colour bar) ----------
const legendValues = [0, 0.25, 0.5, 0.75, 1];
const legendLabels = ['0.00', '0.25', '0.50', '0.75', '1.00'];
const plasmaStops = ['#0d0887', '#41049d', '#6a00a8', '#8f0da4', '#b12a90', '#cc4778', '#e16462', '#f2844b', '#fca636', '#fcce25', '#f0f921'];

const POINT_FILL = 'rgba(13,8,135,0.19)';

type PanelProps = {
  points: [number, number][];
  fitX: number[]; fitY: number[];
  bandX: number[]; bandHalf: number[];
  xMajor: number[]; xMinor: number[]; yMajor: number[]; yMinor: number[];
  left: number; width: number; yAxisWidth: number; padRight: number;
};

const PANEL_TOP = 96;
const CANVAS_H = 570;
const XAXIS_H = 36;

function Panel(p: PanelProps) {
  const ref = useRef<HTMLCanvasElement>(null);
  useEffect(() => {
    const xs = p.points.map((d) => d[0]);
    const ys = p.points.map((d) => d[1]);
    const xmin = Math.min(...xs), xmax = Math.max(...xs);
    const ymin = Math.min(...ys), ymax = Math.max(...ys);
    const ex = (xmax - xmin) * 0.05, ey = (ymax - ymin) * 0.05;
    const slope = (p.fitY[1] - p.fitY[0]) / (p.fitX[1] - p.fitX[0]);
    const fitAt = (x: number) => p.fitY[0] + slope * (x - p.fitX[0]);

    const tickSetter = (major: number[], minor: number[]) => (s: any) => {
      s.ticks = [...major, ...minor]
        .filter((v) => v >= s.min && v <= s.max)
        .sort((a, b) => a - b)
        .map((v) => ({ value: v }));
    };
    const tickFont = { family: FONT, size: 14.2 };

    const chart = new Chart(ref.current as HTMLCanvasElement, {
      type: 'scatter',
      data: {
        datasets: [
          {
            type: 'line',
            data: p.fitX.map((x, i) => ({ x, y: p.fitY[i] })),
            borderColor: '#000000',
            borderWidth: 3,
            pointRadius: 0,
            fill: false,
            order: 0,
          } as any,
          {
            type: 'line',
            data: p.bandX.map((x, i) => ({ x, y: fitAt(x) + p.bandHalf[i] })),
            borderWidth: 0,
            borderColor: 'rgba(0,0,0,0)',
            pointRadius: 0,
            fill: false,
            tension: 0.4,
            cubicInterpolationMode: 'monotone',
            order: 1,
          } as any,
          {
            type: 'line',
            data: p.bandX.map((x, i) => ({ x, y: fitAt(x) - p.bandHalf[i] })),
            borderWidth: 0,
            borderColor: 'rgba(0,0,0,0)',
            backgroundColor: 'rgba(153,153,153,0.4)',
            pointRadius: 0,
            fill: 1,
            tension: 0.4,
            cubicInterpolationMode: 'monotone',
            order: 1,
          } as any,
          {
            data: p.points.map(([x, y]) => ({ x, y })),
            backgroundColor: POINT_FILL,
            borderColor: POINT_FILL,
            borderWidth: 1,
            pointRadius: 5,
            order: 2,
          } as any,
        ],
      },
      options: {
        animation: false,
        responsive: false,
        devicePixelRatio: 1,
        events: [],
        layout: { padding: { left: 0, right: p.padRight, top: PANEL_TOP, bottom: 0 } },
        plugins: { legend: { display: false }, tooltip: { enabled: false } },
        scales: {
          x: {
            type: 'linear',
            min: xmin - ex,
            max: xmax + ex,
            afterBuildTicks: tickSetter(p.xMajor, p.xMinor),
            afterFit: (s: any) => { s.height = XAXIS_H; },
            ticks: {
              autoSkip: false,
              maxRotation: 0,
              padding: 8,
              color: '#4D4D4D',
              font: tickFont,
              callback: (v: any) => (p.xMajor.includes(Number(v)) ? String(v) : ''),
            },
            grid: {
              color: '#EBEBEB',
              drawTicks: false,
              lineWidth: (c: any) => (c.tick && p.xMajor.includes(c.tick.value) ? 1.1 : 0.6),
            },
            border: { display: false },
          },
          y: {
            type: 'linear',
            min: ymin - ey,
            max: ymax + ey,
            afterBuildTicks: tickSetter(p.yMajor, p.yMinor),
            afterFit: (s: any) => { s.width = p.yAxisWidth; },
            ticks: {
              autoSkip: false,
              padding: 8,
              color: '#4D4D4D',
              font: tickFont,
              callback: (v: any) => (p.yMajor.includes(Number(v)) ? String(v) : ''),
            },
            grid: {
              color: '#EBEBEB',
              drawTicks: false,
              lineWidth: (c: any) => (c.tick && p.yMajor.includes(c.tick.value) ? 1.1 : 0.6),
            },
            border: { display: false },
          },
        },
      } as any,
    });
    return () => chart.destroy();
  }, []);
  return (
    <canvas
      ref={ref}
      width={p.width}
      height={CANVAS_H}
      style={{ position: 'absolute', left: p.left, top: 0, width: p.width, height: CANVAS_H }}
    />
  );
}

const textBase: React.CSSProperties = {
  position: 'absolute',
  fontFamily: FONT,
  lineHeight: 1,
  whiteSpace: 'nowrap',
  margin: 0,
};

export default function App() {
  const barTop = 257, barH = 143, barLeft = 923, barW = 29;
  const gradient = `linear-gradient(to top, ${plasmaStops
    .map((c, i) => `${c} ${(i / (plasmaStops.length - 1)) * 100}%`)
    .join(', ')})`;
  return (
    <div style={{ position: 'fixed', left: 0, top: 0, width: 1028, height: 613, background: '#ffffff', overflow: 'hidden' }}>
      <Panel
        points={fwdPoints} fitX={fwdFitX} fitY={fwdFitY} bandX={fwdBandX} bandHalf={fwdBandHalf}
        xMajor={fwdXMajor} xMinor={fwdXMinor} yMajor={fwdYMajor} yMinor={fwdYMinor}
        left={0} width={452} yAxisWidth={60} padRight={10}
      />
      <Panel
        points={defPoints} fitX={defFitX} fitY={defFitY} bandX={defBandX} bandHalf={defBandHalf}
        xMajor={defXMajor} xMinor={defXMinor} yMajor={defYMajor} yMinor={defYMinor}
        left={460} width={445} yAxisWidth={53} padRight={11}
      />

      <div style={{ ...textBase, left: 62, top: 8.9, fontSize: 21.6, color: '#000' }}>
        18+ MPH Bursts Per 60 Predicted vs Residuals
      </div>
      <div style={{ ...textBase, left: 61, top: 37.7, fontSize: 17.8, color: '#000' }}>
        All Strengths, 20+ Games Played
      </div>

      <div style={{ ...textBase, left: 60, width: 382, top: 75.5, fontSize: 14.2, color: '#1A1A1A', textAlign: 'center' }}>
        Forwards
      </div>
      <div style={{ ...textBase, left: 513, width: 381, top: 75.5, fontSize: 14.2, color: '#1A1A1A', textAlign: 'center' }}>
        Defensemen
      </div>

      <div style={{ ...textBase, left: 60, width: 834, top: 560.7, fontSize: 17.8, color: '#000', textAlign: 'center' }}>
        Predicted
      </div>
      <div
        style={{
          ...textBase, left: 18, top: 315, fontSize: 17.8, color: '#000',
          transform: 'translate(-50%, -50%) rotate(-90deg)',
        }}
      >
        Residual
      </div>
      <div style={{ ...textBase, right: 1028 - 894, top: 588, fontSize: 14.2, color: '#000', textAlign: 'right' }}>
        Data via NHL EDGE
      </div>

      <div style={{ ...textBase, left: 922.5, top: 231.6, fontSize: 17.8, color: '#000' }}>R-Squared</div>
      <div style={{ position: 'absolute', left: barLeft, top: barTop, width: barW, height: barH, background: gradient }} />
      {legendValues.map((v, i) => {
        const y = barTop + barH - v * barH;
        const isEnd = v === 0 || v === 1;
        return (
          <React.Fragment key={i}>
            {!isEnd && (
              <>
                <div style={{ position: 'absolute', left: barLeft, top: y - 0.5, width: 5.7, height: 1, background: '#ffffff' }} />
                <div style={{ position: 'absolute', left: barLeft + barW - 5.7, top: y - 0.5, width: 5.7, height: 1, background: '#ffffff' }} />
              </>
            )}
            <div style={{ ...textBase, left: 961.5, top: y - 6.9, fontSize: 14.2, color: '#000' }}>{legendLabels[i]}</div>
          </React.Fragment>
        );
      })}
    </div>
  );
}
